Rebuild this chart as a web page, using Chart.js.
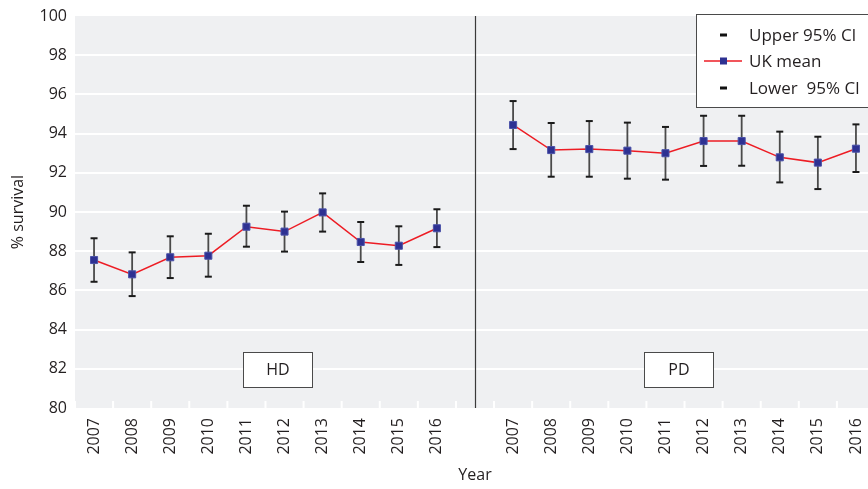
<!DOCTYPE html>
<html>
<head>
<meta charset="utf-8">
<script src="https://cdn.jsdelivr.net/npm/chart.js@4/dist/chart.umd.min.js"></script>
<style>
  html, body { margin: 0; padding: 0; overflow: hidden; background: #ffffff; }
  #wrap { position: absolute; left: 0; top: 0; width: 881px; height: 489px; }
</style>
</head>
<body>
<div id="wrap"><canvas id="c" width="881" height="489"></canvas></div>
<script>
// ---- data ----
const hdYears = ['2007','2008','2009','2010','2011','2012','2013','2014','2015','2016'];
const pdYears = ['2007','2008','2009','2010','2011','2012','2013','2014','2015','2016'];
const hdMean  = [87.55, 86.82, 87.69, 87.77, 89.25, 89.00, 89.98, 88.47, 88.28, 89.17];
const hdUpper = [88.66, 87.94, 88.76, 88.89, 90.32, 90.02, 90.95, 89.49, 89.27, 90.14];
const hdLower = [86.44, 85.71, 86.63, 86.70, 88.23, 87.98, 89.00, 87.45, 87.30, 88.21];
const pdMean  = [94.44, 93.16, 93.21, 93.13, 93.00, 93.62, 93.62, 92.79, 92.52, 93.23];
const pdUpper = [95.66, 94.54, 94.64, 94.56, 94.34, 94.91, 94.91, 94.10, 93.84, 94.47];
const pdLower = [93.21, 91.80, 91.80, 91.70, 91.65, 92.35, 92.36, 91.51, 91.17, 92.04];
const groupLabels = ['HD', 'PD'];
const yTicks = [80, 82, 84, 86, 88, 90, 92, 94, 96, 98, 100];
const legendLabels = ['Upper 95% Cl', 'UK mean', 'Lower  95% Cl'];

// ---- table built for the library ----
const labels = [...hdYears, '', ...pdYears];
const meanData = [...hdMean, null, ...pdMean];
const upperData = [...hdUpper, null, ...pdUpper];
const lowerData = [...hdLower, null, ...pdLower];

const FONT = "'Open Sans', 'DejaVu Sans', sans-serif";
const TXT = '#231f20';
const RED = '#ed1c24';
const NAVY = '#2e3192';

const bgPlugin = {
  id: 'bg',
  beforeDraw(chart) {
    const {ctx, chartArea: a} = chart;
    ctx.save();
    ctx.fillStyle = '#eff0f2';
    ctx.fillRect(a.left, a.top, a.right - a.left, a.bottom - a.top);
    ctx.restore();
  }
};

const errPlugin = {
  id: 'err',
  beforeDatasetsDraw(chart) {
    const {ctx, chartArea: a} = chart;
    const x = chart.scales.x, y = chart.scales.y;
    ctx.save();
    // white tick marks at category boundaries
    ctx.strokeStyle = '#ffffff';
    ctx.lineWidth = 2;
    const step = x.getPixelForValue(1) - x.getPixelForValue(0);
    for (let i = 0; i <= labels.length; i++) {
      const px = x.getPixelForValue(i) - step / 2;
      ctx.beginPath();
      ctx.moveTo(px, a.bottom);
      ctx.lineTo(px, a.bottom - 7);
      ctx.stroke();
    }
    // separator line at the gap category
    const gapIdx = hdYears.length;
    const gx = Math.round(x.getPixelForValue(gapIdx)) + 0.5;
    ctx.strokeStyle = '#3a3a3a';
    ctx.lineWidth = 1.2;
    ctx.beginPath();
    ctx.moveTo(gx, a.top);
    ctx.lineTo(gx, a.bottom);
    ctx.stroke();
    // error bar stems
    ctx.strokeStyle = '#4a4a4a';
    ctx.lineWidth = 1.8;
    for (let i = 0; i < labels.length; i++) {
      if (upperData[i] == null) continue;
      const px = x.getPixelForValue(i);
      ctx.beginPath();
      ctx.moveTo(px, y.getPixelForValue(upperData[i]));
      ctx.lineTo(px, y.getPixelForValue(lowerData[i]));
      ctx.stroke();
    }
    ctx.restore();
  },
  afterDraw(chart) {
    const {ctx, chartArea: a} = chart;
    const x = chart.scales.x;
    ctx.save();
    // group boxes
    const boxes = [
      {t: groupLabels[0], cx: x.getPixelForValue(4) + 31.5},
      {t: groupLabels[1], cx: x.getPixelForValue(15) + 13.5}
    ];
    ctx.font = '16px ' + FONT;
    ctx.textAlign = 'center';
    ctx.textBaseline = 'middle';
    boxes.forEach(b => {
      const w = 69, h = 35, top = a.bottom - 56;
      ctx.fillStyle = '#ffffff';
      ctx.fillRect(b.cx - w / 2, top, w, h);
      ctx.strokeStyle = '#4a4a4a';
      ctx.lineWidth = 1;
      ctx.strokeRect(Math.round(b.cx - w / 2) + 0.5, top + 0.5, w, h);
      ctx.fillStyle = TXT;
      ctx.fillText(b.t, b.cx, top + h / 2 + 1);
    });
    // legend
    const lx = 696.5, ly = 14.5, lw = 200, lh = 93;
    ctx.fillStyle = '#ffffff';
    ctx.fillRect(lx, ly, lw, lh);
    ctx.strokeStyle = '#4a4a4a';
    ctx.lineWidth = 1;
    ctx.strokeRect(lx, ly, lw, lh);
    const rows = [35, 61, 88];
    ctx.textAlign = 'left';
    ctx.font = '17px ' + FONT;
    rows.forEach((ry, k) => {
      if (k === 1) {
        ctx.strokeStyle = RED;
        ctx.lineWidth = 1.5;
        ctx.beginPath();
        ctx.moveTo(704, ry);
        ctx.lineTo(742, ry);
        ctx.stroke();
        ctx.fillStyle = NAVY;
        ctx.fillRect(720, ry - 3.5, 7, 7);
      } else {
        ctx.fillStyle = '#111111';
        ctx.fillRect(720, ry - 1.5, 7, 3);
      }
      ctx.fillStyle = TXT;
      ctx.fillText(legendLabels[k], 749, ry + 1);
    });
    ctx.restore();
  }
};

new Chart(document.getElementById('c'), {
  type: 'line',
  data: {
    labels: labels,
    datasets: [
      {
        label: legendLabels[1],
        data: meanData,
        borderColor: RED,
        borderWidth: 1.5,
        pointStyle: 'rect',
        pointRadius: 5,
        pointBackgroundColor: NAVY,
        pointBorderColor: '#4b52a8',
        pointBorderWidth: 1,
        spanGaps: false,
        tension: 0,
        order: 0
      },
      {
        label: legendLabels[0],
        data: upperData,
        showLine: false,
        pointStyle: 'line',
        pointRadius: 3.5,
        pointBorderColor: '#1a1a1a',
        pointBorderWidth: 2,
        order: 1
      },
      {
        label: legendLabels[2],
        data: lowerData,
        showLine: false,
        pointStyle: 'line',
        pointRadius: 3.5,
        pointBorderColor: '#1a1a1a',
        pointBorderWidth: 2,
        order: 1
      }
    ]
  },
  options: {
    responsive: false,
    animation: false,
    devicePixelRatio: 1,
    layout: { padding: { top: 16, right: 0, left: 0, bottom: 0 } },
    plugins: { legend: { display: false }, tooltip: { enabled: false } },
    scales: {
      x: {
        type: 'category',
        offset: true,
        grid: { display: false, drawTicks: false },
        border: { display: false },
        ticks: {
          autoSkip: false,
          maxRotation: 90,
          minRotation: 90,
          padding: 10,
          color: TXT,
          font: { family: FONT, size: 16 }
        },
        title: {
          display: true,
          text: 'Year',
          color: TXT,
          font: { family: FONT, size: 16 },
          padding: { top: 0, bottom: 4 }
        },
        afterFit(s) { s.height = 81; s.paddingLeft = 0; s.paddingRight = 0; }
      },
      y: {
        min: 80,
        max: 100,
        afterBuildTicks(s) { s.ticks = yTicks.map(v => ({ value: v })); },
        grid: {
          color: (c) => (c.tick && (c.tick.value === 100 || c.tick.value === 80)) ? 'rgba(0,0,0,0)' : '#ffffff',
          lineWidth: 2,
          drawTicks: false
        },
        border: { display: false },
        ticks: {
          padding: 8,
          color: TXT,
          font: { family: FONT, size: 16 }
        },
        title: {
          display: true,
          text: '% survival',
          color: TXT,
          font: { family: FONT, size: 16 },
          padding: { top: 9, bottom: 0 }
        },
        afterFit(s) { s.width = 75; s.paddingTop = 0; s.paddingBottom = 0; }
      }
    }
  },
  plugins: [bgPlugin, errPlugin]
});
</script>
</body>
</html>
